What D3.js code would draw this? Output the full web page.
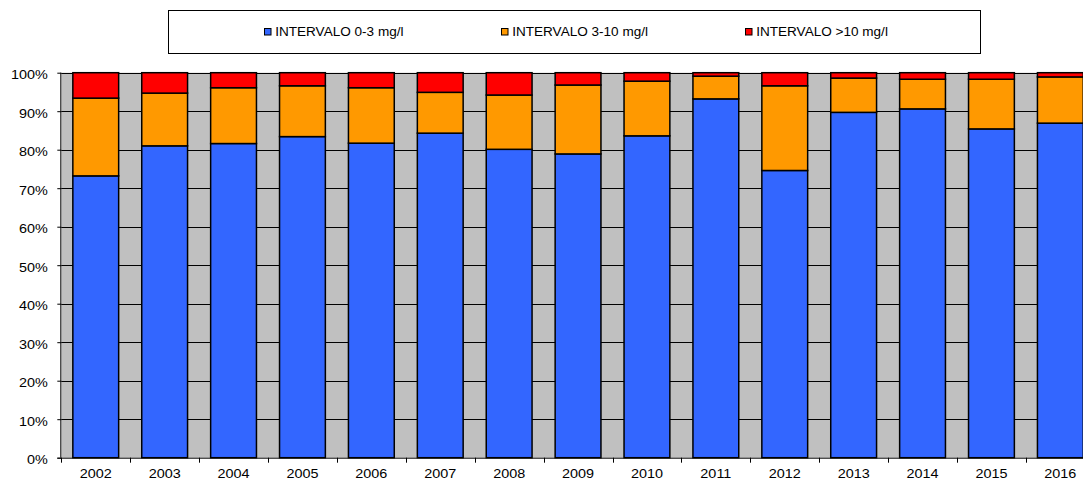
<!DOCTYPE html>
<html><head><meta charset="utf-8">
<script src="https://cdn.jsdelivr.net/npm/d3@7"></script>
<style>html,body{margin:0;padding:0;background:#fff;overflow:hidden}svg{display:block;font-family:"Liberation Sans",Arial,sans-serif}</style>
</head><body>
<svg id="c" width="1083" height="481"></svg>
<script>
const years = ["2002","2003","2004","2005","2006","2007","2008","2009","2010","2011","2012","2013","2014","2015","2016"];
const low = [73.2,81.0,81.6,83.4,81.7,84.3,80.1,78.9,83.6,93.2,74.6,89.7,90.6,85.4,86.9];
const mid = [20.2,13.7,14.5,13.2,14.4,10.6,14.1,17.9,14.2,5.9,22.0,8.9,7.7,12.9,12.0];
const high = [6.6,5.3,3.9,3.4,3.9,5.1,5.8,3.2,2.2,0.9,3.4,1.4,1.7,1.7,1.1];
const seriesNames = ["INTERVALO 0-3 mg/l","INTERVALO 3-10 mg/l","INTERVALO >10 mg/l"];
const seriesColors = ["#3366FF","#FF9900","#FF0000"];
const yTicks = [0,10,20,30,40,50,60,70,80,90,100];

(function(){
const svg = d3.select("#c");
const pL = 61.3, pT = 72.7, pB = 457.7;
const x = d3.scaleBand().domain(years).range([pL, pL + 15*68.9]).padding(0);
const y = d3.scaleLinear().domain([0,100]).range([pB, pT]);
const pR = x.range()[1];

const rows = years.map((yr,i)=>({year:yr, low:low[i], mid:mid[i], high:high[i]}));
const stack = d3.stack().keys(["low","mid","high"])(rows);

svg.append("rect").attr("x",pL).attr("y",pT).attr("width",pR-pL).attr("height",pB-pT).attr("fill","#C0C0C0");

svg.append("g").selectAll("line").data(yTicks.filter(d=>d>0)).join("line")
  .attr("x1",pL).attr("x2",pR).attr("y1",d=>Math.round(y(d))+0.5).attr("y2",d=>Math.round(y(d))+0.5)
  .attr("stroke","#000").attr("stroke-width",1);

const bw = x.bandwidth()*0.665;
const off = (x.bandwidth()-bw)/2;
svg.append("g").selectAll("g").data(stack).join("g")
  .attr("fill",(d,i)=>seriesColors[i])
  .selectAll("rect").data(d=>d).join("rect")
  .attr("x",d=>x(d.data.year)+off)
  .attr("width",bw)
  .attr("y",d=>y(d[1]))
  .attr("height",d=>y(d[0])-y(d[1]))
  .attr("stroke","#000").attr("stroke-width",1.5);

const yAxis = d3.axisLeft(y).tickValues(yTicks).tickFormat("").tickSize(4);
const gy = svg.append("g").attr("transform",`translate(${pL},0)`).call(yAxis);
gy.select(".domain").attr("stroke","#000").attr("d",`M-0.5,${pT}V${pB}`);
gy.selectAll(".tick line").attr("stroke","#000");
gy.selectAll(".tick text").remove();
svg.append("g").selectAll("text").data(yTicks).join("text")
  .attr("transform",d=>`translate(47.7,${y(d)+6.3}) scale(1.2,1)`)
  .attr("text-anchor","end").attr("font-size",12).attr("fill","#000").text(d=>d+"%");

const gx = svg.append("g").attr("transform",`translate(0,${pB})`);
gx.append("line").attr("x1",pL-4).attr("x2",1083).attr("y1",0.5).attr("y2",0.5).attr("stroke","#000");
gx.selectAll("line.t").data(years).join("line").attr("class","t")
  .attr("x1",d=>Math.round(x(d))+0.5).attr("x2",d=>Math.round(x(d))+0.5).attr("y1",0).attr("y2",5).attr("stroke","#000");
gx.selectAll("text").data(years).join("text")
  .attr("transform",d=>`translate(${x(d)+x.bandwidth()/2},20.3) scale(1.2,1)`)
  .attr("text-anchor","middle").attr("font-size",12).attr("fill","#000").text(d=>d);

const lg = svg.append("g");
lg.append("rect").attr("x",168.5).attr("y",10.5).attr("width",812).attr("height",43).attr("fill","#fff").attr("stroke","#000").attr("stroke-width",1);
const legX = [264, 501, 745];
seriesNames.forEach((n,i)=>{
  lg.append("rect").attr("x",legX[i]+0.5).attr("y",28.5).attr("width",6.5).attr("height",6.5).attr("fill",seriesColors[i]).attr("stroke","#000").attr("stroke-width",1);
  lg.append("text").attr("transform",`translate(${legX[i]+11.2},36) scale(1.13,1)`)
    .attr("font-size",12).attr("fill","#000").text(n);
});
})();
</script>
</body></html>
